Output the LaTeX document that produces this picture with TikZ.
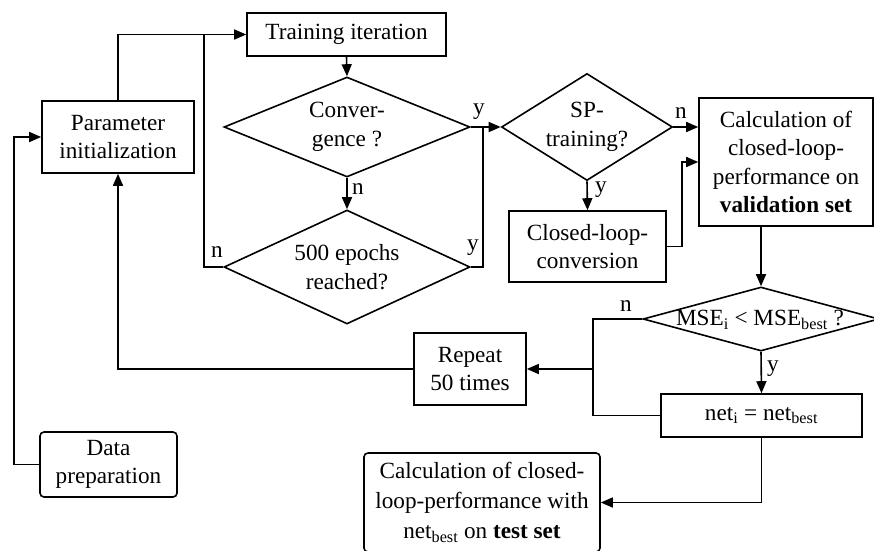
\documentclass[tikz,border=0pt]{standalone}
\usepackage{fontspec}
\setmainfont{Liberation Serif}
\usetikzlibrary{shapes.geometric,arrows.meta}

\begin{document}
\begin{tikzpicture}[x=1pt,y=-1pt,line width=1.6pt,
  every node/.style={font=\fontsize{23.2}{28.5}\selectfont},
  box/.style={draw,inner sep=0pt,align=center},
  rbox/.style={box,rounded corners=4pt},
  dia/.style={draw,diamond,inner sep=0pt,align=center},
  lab/.style={inner sep=0pt},
  arr/.style={-{Triangle[length=12pt,width=10pt]}}]
\useasboundingbox (0,0) rectangle (874,550);

% process boxes
\node[box,minimum width=199pt,minimum height=43pt] (train) at (346.5,34.5) {Training iteration};
\node[box,minimum width=152pt,minimum height=72pt] (param) at (118,137) {Parameter\\initialization};
\node[rbox,minimum width=137pt,minimum height=65pt] (data) at (108.5,464.5) {Data\\preparation};
\node[box,minimum width=112pt,minimum height=72pt] (rep) at (470,369) {Repeat\\50 times};
\node[box,minimum width=157pt,minimum height=71pt] (clconv) at (587.5,246.5) {Closed-loop-\\conversion};
\node[box,minimum width=174pt,minimum height=128pt] (calc) at (786,162) {Calculation of\\closed-loop-\\performance on\\\textbf{validation set}};
\node[box,minimum width=201pt,minimum height=43pt] (net) at (761.5,415.5) {net\textsubscript{i} = net\textsubscript{best}};
\node[rbox,minimum width=236pt,minimum height=99pt,font=\fontsize{23.2}{30}\selectfont] (final) at (482,502.5)
  {Calculation of closed-\\loop-performance with\\net\textsubscript{best} on \textbf{test set}};

% decisions
\node[dia,aspect=2.46,minimum width=246pt,minimum height=100pt] (conv) at (347,127) {Conver-\\gence ?};
\node[dia,aspect=2.16,minimum width=246pt,minimum height=114pt] (ep) at (347,267) {500 epochs\\reached?};
\node[dia,aspect=1.6,minimum width=171pt,minimum height=107pt] (sp) at (587,127) {SP-\\training?};
\node[dia,aspect=3.7,minimum width=236pt,minimum height=64pt] (mse) at (761,319) {};
\node[lab] (msetext) at (760,320) {MSE\textsubscript{i} < MSE\textsubscript{best} ?};

% junction points
\coordinate (j1) at (204,34);
\coordinate (j2) at (483,127);
\coordinate (j3) at (682,162);
\coordinate (j4) at (593,369);
\coordinate (j5) at (14,137);

% connectors
\draw[arr] (param.north) |- (train.west);
\draw (ep.west) -| (j1);
\draw[arr] (train.south) -- (conv.north);
\draw[arr] (conv.south) -- (ep.north);
\draw[arr] (conv.east) -- (sp.west);
\draw (ep.east) -| (j2);
\draw[arr] (sp.east) -- (sp.east -| calc.west);
\draw[arr] (sp.south) -- (clconv.north);
\draw[arr] (clconv.east) -| (j3) -- (calc.west);
\draw[arr] (mse.north |- calc.south) -- (mse.north);
\draw[arr] (mse.west) -| (j4) -- (rep.east);
\draw (net.west) -| (j4);
\draw[arr] (mse.south) -- (net.north);
\draw[arr] (net.south) |- (final.east);
\draw[arr] (rep.west) -| (param.south);
\draw[arr] (data.west) -| (j5) -- (param.west);

% branch labels
\node[lab] (l1) at (358,189) {n};
\node[lab] (l2) at (217,252) {n};
\node[lab] (l3) at (479,112) {y};
\node[lab] (l4) at (473,248) {y};
\node[lab] (l5) at (681,113) {n};
\node[lab] (l6) at (601,190) {y};
\node[lab] (l7) at (626,306) {n};
\node[lab] (l8) at (773,369) {y};
\end{tikzpicture}
\end{document}
